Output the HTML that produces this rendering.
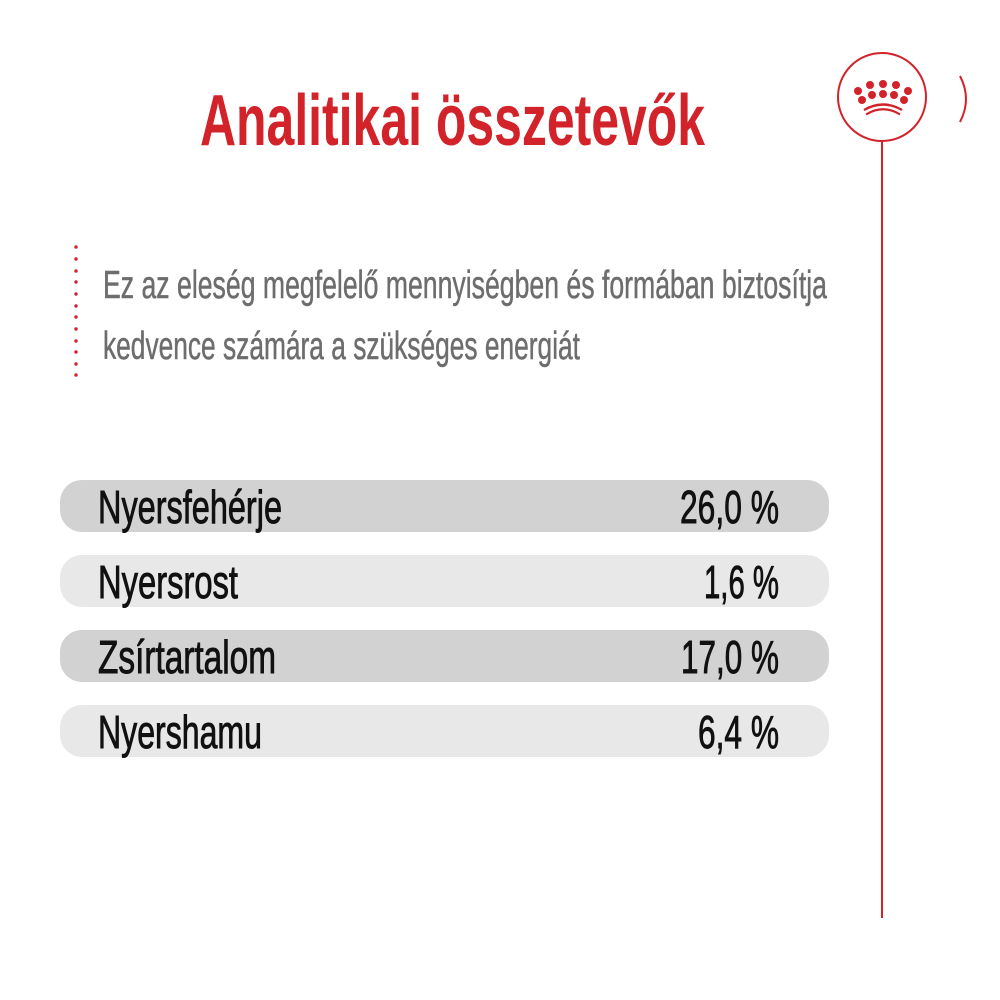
<!DOCTYPE html>
<html><head><meta charset="utf-8"><style>html,body{margin:0;padding:0;background:#fff}svg{display:block}</style></head>
<body>
<svg width="1000" height="1000" viewBox="0 0 1000 1000" xmlns="http://www.w3.org/2000/svg" font-family="'Liberation Sans Narrow','Liberation Sans',sans-serif">
<rect width="1000" height="1000" fill="#fff"/>
<text x="200" y="145" font-size="72" font-weight="bold" fill="#d2232a" textLength="505" lengthAdjust="spacingAndGlyphs">Analitikai összetevők</text>
<g fill="#d2232a">
<circle cx="76" cy="247" r="1.7"/><circle cx="76" cy="259" r="1.7"/><circle cx="76" cy="271" r="1.7"/><circle cx="76" cy="282" r="1.7"/><circle cx="76" cy="294" r="1.7"/><circle cx="76" cy="306" r="1.7"/><circle cx="76" cy="317" r="1.7"/><circle cx="76" cy="329" r="1.7"/><circle cx="76" cy="341" r="1.7"/><circle cx="76" cy="352" r="1.7"/><circle cx="76" cy="364" r="1.7"/><circle cx="76" cy="375" r="1.7"/>
</g>
<g fill="#6d6d6d" stroke="#6d6d6d" stroke-width="0.5">
<text x="103" y="298" font-size="39" textLength="724" lengthAdjust="spacingAndGlyphs">Ez az eleség megfelelő mennyiségben és formában biztosítja</text>
<text x="103" y="359" font-size="39" textLength="477" lengthAdjust="spacingAndGlyphs">kedvence számára a szükséges energiát</text>
</g>
<rect x="60" y="480" width="769" height="52" rx="22" fill="#d2d2d2"/>
<rect x="60" y="555" width="769" height="52" rx="22" fill="#e8e8e8"/>
<rect x="60" y="630" width="769" height="52" rx="22" fill="#d2d2d2"/>
<rect x="60" y="705" width="769" height="52" rx="22" fill="#e8e8e8"/>
<g font-size="46" fill="#111" stroke="#111" stroke-width="0.9">
<text x="98" y="523" textLength="184" lengthAdjust="spacingAndGlyphs">Nyersfehérje</text>
<text x="98" y="598" textLength="140" lengthAdjust="spacingAndGlyphs">Nyersrost</text>
<text x="98" y="673" textLength="178" lengthAdjust="spacingAndGlyphs">Zsírtartalom</text>
<text x="98" y="748" textLength="164" lengthAdjust="spacingAndGlyphs">Nyershamu</text>
<text x="680" y="523" textLength="99" lengthAdjust="spacingAndGlyphs">26,0 %</text>
<text x="704" y="598" textLength="75" lengthAdjust="spacingAndGlyphs">1,6 %</text>
<text x="681" y="673" textLength="98" lengthAdjust="spacingAndGlyphs">17,0 %</text>
<text x="698" y="748" textLength="81" lengthAdjust="spacingAndGlyphs">6,4 %</text>
</g>
<circle cx="882" cy="97" r="44" fill="none" stroke="#d2232a" stroke-width="2"/>
<line x1="882" y1="141" x2="882" y2="918" stroke="#d2232a" stroke-width="2"/>
<path d="M960 76 Q972 99 960 122" fill="none" stroke="#d2232a" stroke-width="2"/>
<g fill="#d2232a">
<circle cx="858" cy="91" r="4"/><circle cx="870" cy="85" r="4"/><circle cx="883" cy="84" r="4"/><circle cx="896" cy="85" r="4"/><circle cx="908" cy="91" r="4"/>
<circle cx="862" cy="100" r="4"/><circle cx="872" cy="95" r="4"/><circle cx="883" cy="94" r="4"/><circle cx="894" cy="95" r="4"/><circle cx="904" cy="100" r="4"/>
</g>
<path d="M864 110 Q883 99 902 110" fill="none" stroke="#d2232a" stroke-width="2.4"/>
<path d="M866 114.5 Q883 104 900 114.5" fill="none" stroke="#d2232a" stroke-width="2.2"/>
</svg>
</body></html>
